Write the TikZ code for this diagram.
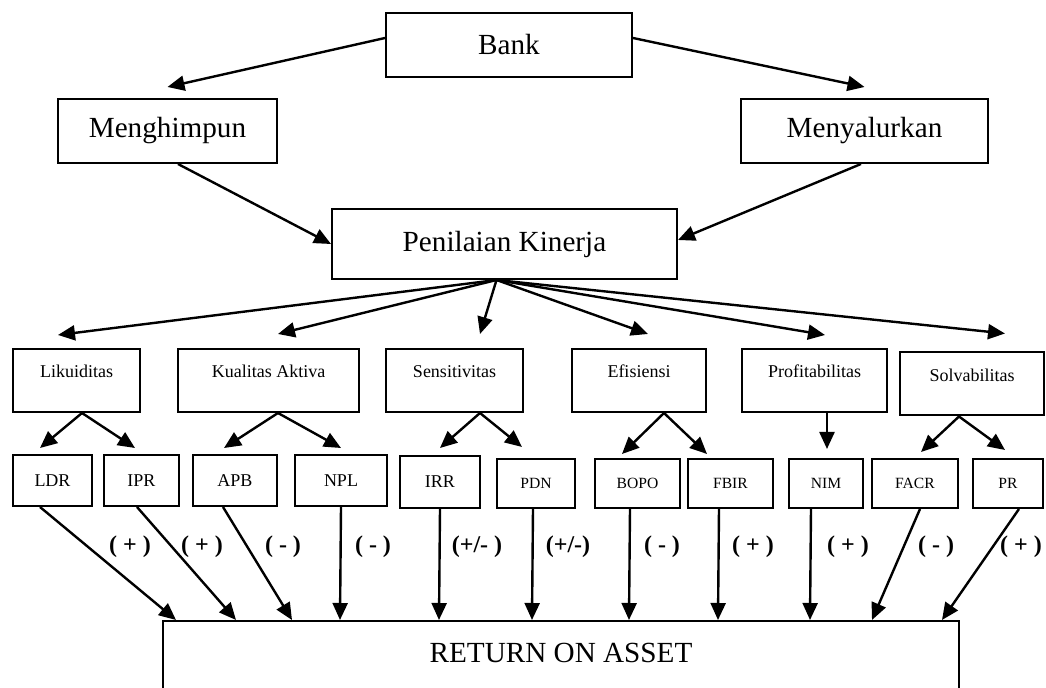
\documentclass[tikz,border=0pt]{standalone}
\usepackage{fontspec}
\setmainfont{Liberation Serif}
\usetikzlibrary{arrows.meta}

\newcommand\fbesar{\fontsize{14.6}{17}\selectfont}
\newcommand\fsedang{\fontsize{9}{11}\selectfont}
\newcommand\fkecil{\fontsize{7.8}{9.5}\selectfont}
\newcommand\ftanda{\fontsize{12}{14}\selectfont\bfseries}

\tikzset{
    kotak/.style={draw, line width=1pt, inner sep=0pt},
    besar/.style={kotak, node font=\fbesar},
    aspek/.style={kotak, node font=\fsedang, text height=14.5pt, text depth=17pt},
    rasio/.style={kotak, node font=\fsedang},
    panah/.style={line width=1.2pt, -{Triangle[length=8.5pt, width=7.5pt]}},
    tanda/.style={node font=\ftanda, inner sep=0pt},
}

\begin{document}
\begin{tikzpicture}[x=0.5pt, y=-0.5pt]
    \useasboundingbox (0,0) rectangle (1046,688);
    \clip (0,0) rectangle (1046,688);

    \node[besar, minimum width=123pt, minimum height=32pt] (bank) at (509,45) {Bank};
    \node[besar, minimum width=109.5pt, minimum height=32pt] (hmp) at (167.5,131) {Menghimpun};
    \node[besar, minimum width=123.5pt, minimum height=32pt] (salur) at (864.5,131) {Menyalurkan};
    \node[besar, minimum width=172.5pt, minimum height=35pt] (nilai) at (504.5,244) {Penilaian Kinerja};

    \node[aspek, minimum width=63.5pt] (likuid) at (76.5,380.5) {Likuiditas};
    \node[aspek, minimum width=90.5pt] (kualitas) at (268.5,380.5) {Kualitas Aktiva};
    \node[aspek, minimum width=68.5pt] (sensi) at (454.5,380.5) {Sensitivitas};
    \node[aspek, minimum width=67pt] (efisi) at (639,380.5) {Efisiensi};
    \node[aspek, minimum width=72.5pt] (profit) at (814.5,380.5) {Profitabilitas};
    \node[aspek, minimum width=72pt] (solva) at (972,384) {Solvabilitas};

    \node[rasio, minimum width=39.5pt, minimum height=25.5pt] (ldr) at (52.5,480.5) {LDR};
    \node[rasio, minimum width=37.5pt, minimum height=25.5pt] (ipr) at (141.5,480.5) {IPR};
    \node[rasio, minimum width=42pt, minimum height=25.5pt] (apb) at (235,480.5) {APB};
    \node[rasio, minimum width=46pt, minimum height=25.5pt] (npl) at (341,480.5) {NPL};
    \node[rasio, minimum width=40pt, minimum height=26pt] (irr) at (440,482) {IRR};
    \node[rasio, node font=\fkecil, minimum width=39pt, minimum height=24.5pt] (pdn) at (536,483.5) {PDN};
    \node[rasio, node font=\fkecil, minimum width=42.5pt, minimum height=24.5pt] (bopo) at (637.5,483.5) {BOPO};
    \node[rasio, node font=\fkecil, minimum width=42.5pt, minimum height=24.5pt] (fbir) at (730.5,483.5) {FBIR};
    \node[rasio, node font=\fkecil, minimum width=37pt, minimum height=24.5pt] (nim) at (826,483.5) {NIM};
    \node[rasio, node font=\fkecil, minimum width=43pt, minimum height=24.5pt] (facr) at (915,483.5) {FACR};
    \node[rasio, node font=\fkecil, minimum width=35pt, minimum height=24.5pt] (pr) at (1008,483.5) {PR};

    \node[kotak, node font=\fbesar, minimum width=398pt, text height=20.8pt, text depth=19.2pt, anchor=north] (roa) at (561,620) {RETURN ON ASSET};

    \draw[panah] ([yshift=3.5pt]bank.west) -- ([yshift=5.5pt]hmp.north);
    \draw[panah] ([yshift=3.5pt]bank.east) -- ([yshift=5.5pt]salur.north);
    \draw[panah] ([xshift=5.25pt]hmp.south) -- (nilai.west);
    \draw[panah] ([xshift=-1.75pt]salur.south) -- ([yshift=2pt]nilai.east);

    \draw[panah] ([xshift=-4pt]nilai.south) -- ([shift={(-9.25pt,6.5pt)}]likuid.north);
    \draw[panah] ([xshift=-4pt]nilai.south) -- ([shift={(4.75pt,7pt)}]kualitas.north);
    \draw[panah] ([xshift=-4pt]nilai.south) -- ([shift={(12.75pt,7pt)}]sensi.north);
    \draw[panah] ([xshift=-4pt]nilai.south) -- ([shift={(4.5pt,7pt)}]efisi.north);
    \draw[panah] ([xshift=-4pt]nilai.south) -- ([shift={(5.25pt,6.5pt)}]profit.north);
    \draw[panah] ([xshift=-4pt]nilai.south) -- ([shift={(16.5pt,9pt)}]solva.north);

    \draw[panah] ([xshift=2.75pt]likuid.south) -- ([shift={(-6.25pt,3pt)}]ldr.north);
    \draw[panah] ([xshift=2.75pt]likuid.south) -- ([shift={(-3.25pt,3pt)}]ipr.north);
    \draw[panah] ([xshift=4.75pt]kualitas.south) -- ([shift={(-5.5pt,3pt)}]apb.north);
    \draw[panah] ([xshift=4.75pt]kualitas.south) -- ([yshift=3pt]npl.north);
    \draw[panah] ([xshift=12.75pt]sensi.south) -- ([yshift=3.5pt]irr.north);
    \draw[panah] ([xshift=12.75pt]sensi.south) -- ([shift={(-7pt,5.5pt)}]pdn.north);
    \draw[panah] ([xshift=12.5pt]efisi.south) -- ([shift={(-7.75pt,2pt)}]bopo.north);
    \draw[panah] ([xshift=12.5pt]efisi.south) -- ([shift={(-11.75pt,2pt)}]fbir.north);
    \draw[panah] ([xshift=6.25pt]profit.south) -- ([shift={(0.5pt,4.5pt)}]nim.north);
    \draw[panah] ([xshift=-6.5pt]solva.south) -- ([shift={(3pt,3pt)}]facr.north);
    \draw[panah] ([xshift=-6.5pt]solva.south) -- ([shift={(-1.5pt,4pt)}]pr.north);

    \draw[panah] ([xshift=-6.25pt]ldr.south) -- ([xshift=7pt]roa.north west);
    \draw[panah] ([xshift=-2.25pt]ipr.south) -- ([xshift=37pt]roa.north west);
    \draw[panah] ([xshift=-6pt]apb.south) -- ([xshift=65pt]roa.north west);
    \draw[panah] (npl.south) -- ([xshift=89pt]roa.north west);
    \draw[panah] (irr.south) -- ([xshift=138.5pt]roa.north west);
    \draw[panah] ([xshift=-1.5pt]pdn.south) -- ([xshift=185pt]roa.north west);
    \draw[panah] ([xshift=-3.75pt]bopo.south) -- ([xshift=233.5pt]roa.north west);
    \draw[panah] ([xshift=-5.75pt]fbir.south) -- ([xshift=278pt]roa.north west);
    \draw[panah] ([xshift=-7.5pt]nim.south) -- ([xshift=324pt]roa.north west);
    \draw[panah] ([xshift=2.5pt]facr.south) -- ([xshift=355pt]roa.north west);
    \draw[panah] ([xshift=5.5pt]pr.south) -- ([xshift=390pt]roa.north west);

    \node[tanda] (tldr) at (130,547) {( + )};
    \node[tanda] (tipr) at (202,547) {( + )};
    \node[tanda] (tapb) at (283,547) {( - )};
    \node[tanda] (tnpl) at (373,547) {( - )};
    \node[tanda] (tirr) at (477,547) {(+/- )};
    \node[tanda] (tpdn) at (568,547) {(+/-)};
    \node[tanda] (tbopo) at (662,547) {( - )};
    \node[tanda] (tfbir) at (753,547) {( + )};
    \node[tanda] (tnim) at (848,547) {( + )};
    \node[tanda] (tfacr) at (936,547) {( - )};
    \node[tanda] (tpr) at (1021,547) {( + )};
\end{tikzpicture}
\end{document}
